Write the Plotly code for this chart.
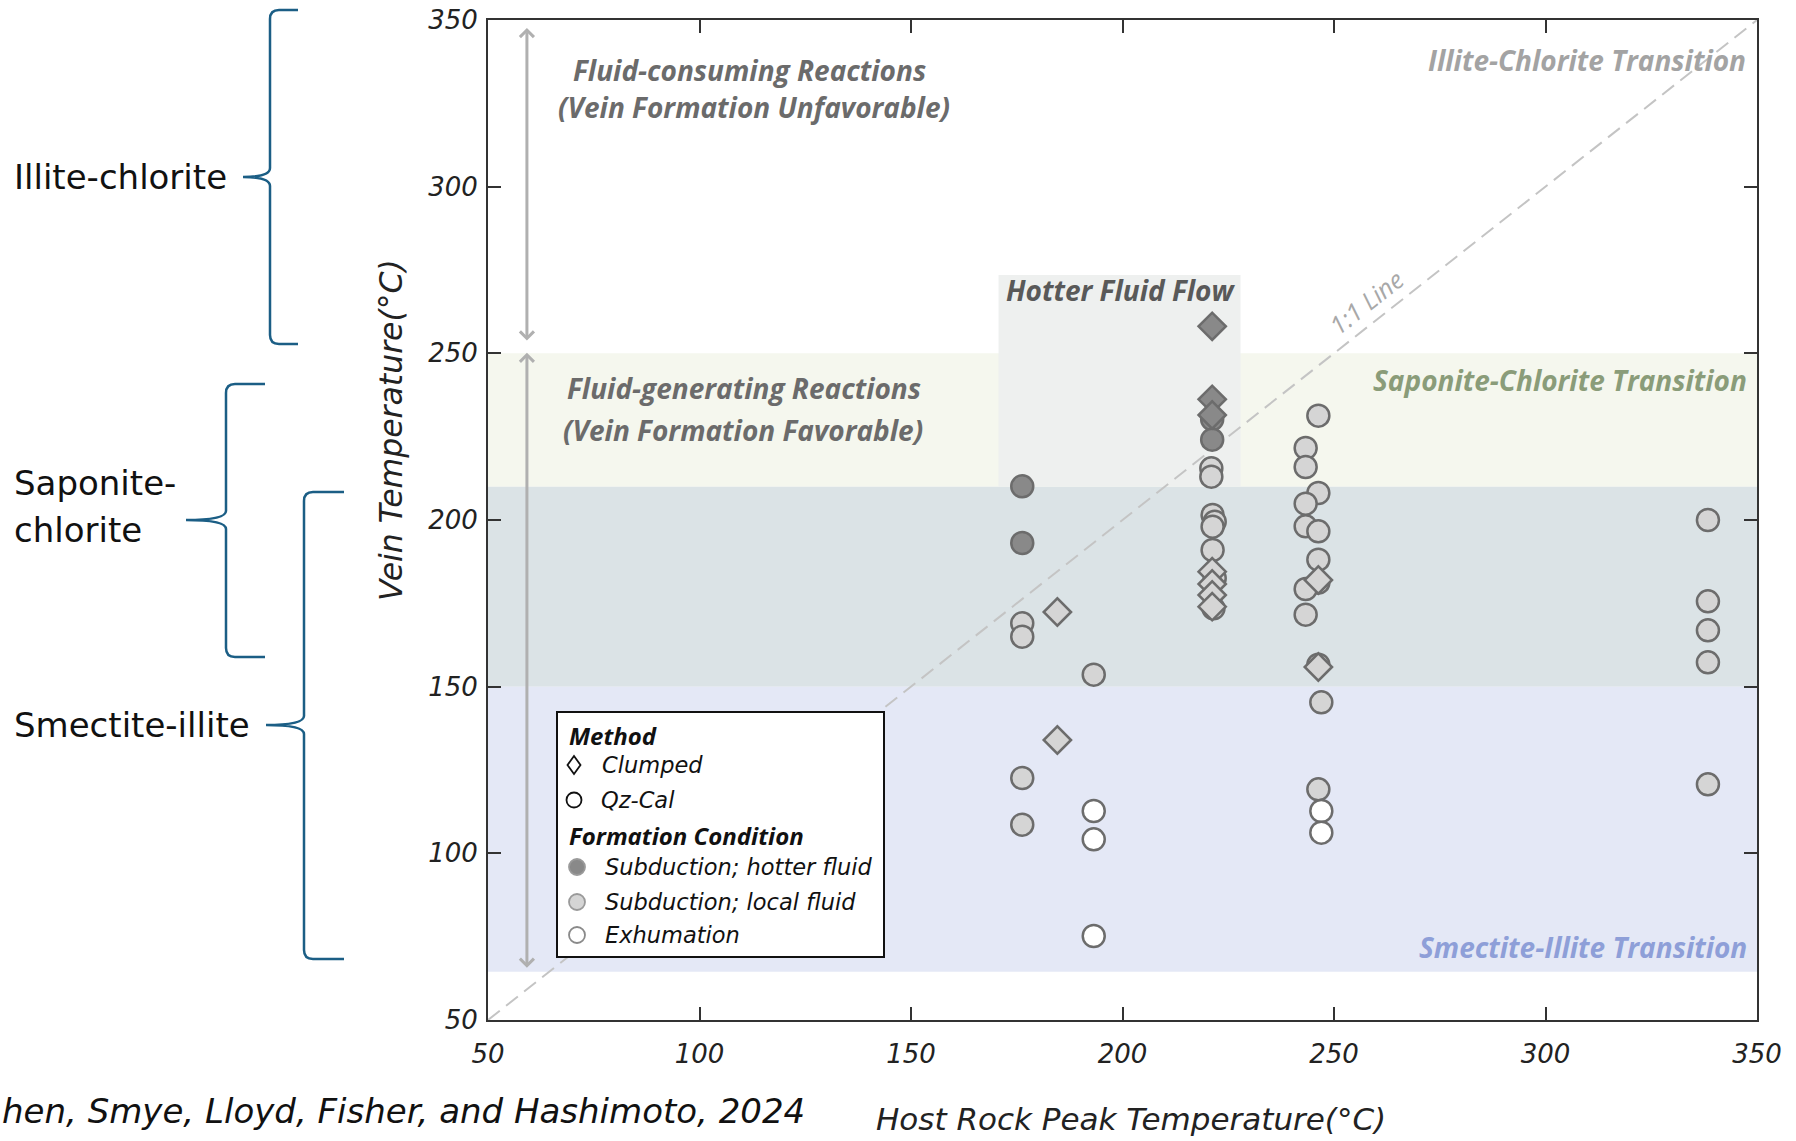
import plotly.graph_objects as go

# ---------------- data ----------------
# Subduction; hotter fluid
hot_qz_x = [176.3, 176.3, 221.2, 221.2]
hot_qz_y = [210.1, 193.1, 230.2, 224.1]
hot_cl_x = [221.2, 221.2, 221.2]
hot_cl_y = [258.1, 236.2, 231.5]

# Subduction; local fluid
local_qz_x = [176.3, 176.3, 176.3, 176.3,
              193.2,
              221.0, 221.0, 221.3, 221.8, 221.3, 221.3, 221.8, 221.5,
              246.3, 243.3, 243.3, 246.3, 243.3, 243.3, 246.3, 246.3, 246.3,
              243.3, 243.3, 246.3, 247.0, 246.3,
              338.4, 338.4, 338.4, 338.4, 338.4]
local_qz_y = [169.0, 165.0, 122.6, 108.6,
              153.6,
              215.5, 213.0, 201.5, 199.5, 198.0, 191.0, 182.5, 173.5,
              231.3, 221.6, 215.9, 208.1, 204.9, 198.1, 196.6, 188.1, 181.2,
              179.3, 171.6, 156.6, 145.3, 119.2,
              200.0, 175.6, 166.9, 157.3, 120.7]
local_cl_x = [184.6, 184.6, 221.2, 221.2, 221.2, 221.2, 246.3, 246.3]
local_cl_y = [172.4, 134.0, 184.5, 180.8, 177.5, 174.0, 182.0, 155.9]

# Exhumation
exh_qz_x = [193.2, 193.2, 193.2, 247.0, 247.0]
exh_qz_y = [112.7, 104.2, 75.2, 112.7, 106.2]

x_ticks = [50, 100, 150, 200, 250, 300, 350]
y_ticks = [50, 100, 150, 200, 250, 300, 350]

# ---------------- geometry helpers (pixels -> paper) ----------------
L, R, T, B = 488, 1757, 20, 1020


def px(fx):
    return (fx - L) / (R - L)


def py(fy):
    return (B - fy) / (B - T)


OUT = "#6c6c6c"
DARK = "#898989"
LIGHT = "#d5d5d5"
WHITE = "#ffffff"

fig = go.Figure()


def add(xs, ys, sym, fill, size):
    fig.add_trace(go.Scatter(
        x=xs, y=ys, mode="markers", showlegend=False, hoverinfo="skip",
        marker=dict(symbol=sym, size=size, color=fill,
                    line=dict(color=OUT, width=2.5))))


add(local_qz_x, local_qz_y, "circle", LIGHT, 22)
add(exh_qz_x, exh_qz_y, "circle", WHITE, 22)
add(hot_qz_x, hot_qz_y, "circle", DARK, 22)
add(local_cl_x, local_cl_y, "diamond", LIGHT, 21)
add(hot_cl_x, hot_cl_y, "diamond", DARK, 21)

shapes = []
# background bands
shapes.append(dict(type="rect", xref="x", yref="y", x0=50, x1=350, y0=210, y1=250,
                   fillcolor="#f5f7ee", line=dict(width=0), layer="below"))
shapes.append(dict(type="rect", xref="x", yref="y", x0=50, x1=350, y0=150, y1=210,
                   fillcolor="#dbe3e6", line=dict(width=0), layer="below"))
shapes.append(dict(type="rect", xref="x", yref="y", x0=50, x1=350, y0=64.5, y1=150,
                   fillcolor="#e4e8f6", line=dict(width=0), layer="below"))
# hotter fluid flow box
shapes.append(dict(type="rect", xref="x", yref="y", x0=170.7, x1=227.9, y0=210, y1=273.5,
                   fillcolor="#eef0ef", line=dict(width=0), layer="below"))
# 1:1 line
shapes.append(dict(type="line", xref="x", yref="y", x0=50, y0=50, x1=350, y1=350,
                   line=dict(color="#c4c4c4", width=2, dash="15px,8px"), layer="below"))

# braces on the left
BRACE = "#1b5e85"


def brace(xv, yt, yb, ytip, xtip, xs, r=9):
    pts = (f"M{px(xs)},{py(yt)} L{px(xv + r)},{py(yt)} Q{px(xv)},{py(yt)} {px(xv)},{py(yt + r)} "
           f"L{px(xv)},{py(ytip - r)} Q{px(xv)},{py(ytip)} {px(xtip)},{py(ytip)} "
           f"Q{px(xv)},{py(ytip)} {px(xv)},{py(ytip + r)} "
           f"L{px(xv)},{py(yb - r)} Q{px(xv)},{py(yb)} {px(xv + r)},{py(yb)} L{px(xs)},{py(yb)}")
    return dict(type="path", xref="paper", yref="paper", path=pts,
                line=dict(color=BRACE, width=2.5))


shapes.append(brace(270, 10, 344, 177, 243, 298))
shapes.append(brace(226, 384, 657, 520, 186, 265))
shapes.append(brace(304, 492, 959, 725, 266, 344))

# custom legend box
shapes.append(dict(type="rect", xref="paper", yref="paper", x0=px(557), x1=px(884),
                   y0=py(957), y1=py(712), line=dict(color="#111111", width=2),
                   fillcolor="white", layer="above"))


def legend_circle(fx, fy, fill, line_c, r=8):
    return dict(type="circle", xref="paper", yref="paper", xsizemode="pixel",
                ysizemode="pixel", xanchor=px(fx), yanchor=py(fy),
                x0=-r, x1=r, y0=-r, y1=r, fillcolor=fill,
                line=dict(color=line_c, width=1.8), layer="above")


shapes.append(dict(type="path", xref="paper", yref="paper", xsizemode="pixel",
                   ysizemode="pixel", xanchor=px(574), yanchor=py(765),
                   path="M0,9 L6.5,0 L0,-9 L-6.5,0 Z", fillcolor="white",
                   line=dict(color="#111111", width=1.8), layer="above"))
shapes.append(legend_circle(574, 800, "white", "#111111", 7.5))
shapes.append(legend_circle(577, 867, DARK, "#9a9a9a"))
shapes.append(legend_circle(577, 902, LIGHT, "#9a9a9a"))
shapes.append(legend_circle(577, 935, WHITE, "#8a8a8a"))

ann = []
TXT = "#6b6b6b"


def dtext(x, y, s, color, size=28, xanchor="center", bold=True, angle=0, italic=True):
    ann.append(dict(x=x, y=y, xref="x", yref="y", text=s, showarrow=False,
                    xanchor=xanchor, yanchor="middle", textangle=angle,
                    font=dict(family="Open Sans", size=size, color=color,
                              weight="bold" if bold else "normal",
                              style="italic" if italic else "normal")))


dtext(111.9, 335.0, "Fluid-consuming Reactions", TXT)
dtext(112.8, 324.0, "(Vein Formation Unfavorable)", TXT)
dtext(110.5, 239.7, "Fluid-generating Reactions", TXT)
dtext(110.3, 227.1, "(Vein Formation Favorable)", TXT)
dtext(199.6, 269.1, "Hotter Fluid Flow", "#595959")
dtext(347.9, 338.0, "Illite-Chlorite Transition", "#a3a3a3", xanchor="right")
dtext(348.0, 242.1, "Saponite-Chlorite Transition", "#8a9c79", xanchor="right")
dtext(348.0, 72.0, "Smectite-Illite Transition", "#8e9fd8", xanchor="right")
dtext(257.5, 265.5, "1:1 Line", "#a8a8a8", size=25, bold=False, angle=-38.3)

# double-headed arrows
for (y_a, y_b) in [(347.6, 253.4), (250.2, 65.2)]:
    ann.append(dict(x=59.2, y=y_a, ax=59.2, ay=y_b, xref="x", yref="y", axref="x", ayref="y",
                    text="", showarrow=True, arrowhead=4, startarrowhead=4,
                    arrowside="end+start", arrowsize=0.9, startarrowsize=0.9,
                    arrowwidth=3, arrowcolor="#b0b0b0", standoff=0, startstandoff=0))


def ptext(fx, fy, s, size, color="#111111", family="DejaVu Sans", xanchor="left",
          italic=False, bold=False, angle=0):
    ann.append(dict(x=px(fx), y=py(fy), xref="paper", yref="paper", text=s,
                    showarrow=False, xanchor=xanchor, yanchor="middle", textangle=angle,
                    font=dict(family=family, size=size, color=color,
                              style="italic" if italic else "normal",
                              weight="bold" if bold else "normal")))


# left labels
ptext(12, 177, "Illite-chlorite", 34)
ptext(12, 483, "Saponite-", 34)
ptext(12, 530, "chlorite", 34)
ptext(12, 725, "Smectite-illite", 34)
ptext(0, 1111, "hen, Smye, Lloyd, Fisher, and Hashimoto, 2024", 34, italic=True)

# axis titles
ptext(1131, 1119, "Host Rock Peak Temperature(°C)", 31, color="#222222", xanchor="center", italic=True)
ptext(391, 430, "Vein Temperature(°C)", 31.5, color="#222222", xanchor="center", italic=True, angle=-90)

# legend texts
ptext(567, 735, "Method", 24, family="Open Sans", italic=True, bold=True)
ptext(600, 765, "Clumped", 22.5, italic=True)
ptext(599, 800, "Qz-Cal", 22.5, italic=True)
ptext(567, 835, "Formation Condition", 24, family="Open Sans", italic=True, bold=True)
ptext(603, 867, "Subduction; hotter fluid", 22.5, italic=True)
ptext(603, 902, "Subduction; local fluid", 22.5, italic=True)
ptext(603, 935, "Exhumation", 22.5, italic=True)

axis_common = dict(showgrid=False, zeroline=False, showline=True, linewidth=2,
                   linecolor="#333333", mirror="ticks", ticks="inside", ticklen=13,
                   tickwidth=2, tickcolor="#333333", automargin=False,
                   tickfont=dict(family="DejaVu Sans", size=26, color="#222222", style="italic"))

fig.update_xaxes(range=[50, 350], tickvals=x_ticks, ticktext=[str(v) for v in x_ticks],
                 ticklabelstandoff=10, **axis_common)
fig.update_yaxes(range=[50, 350], tickvals=y_ticks, ticktext=[str(v) for v in y_ticks],
                 ticklabelstandoff=3, **axis_common)

fig.update_layout(width=1796, height=1141, margin=dict(l=L, r=1796 - R, t=T, b=1141 - B),
                  plot_bgcolor="white", paper_bgcolor="white", showlegend=False,
                  shapes=shapes, annotations=ann)

fig.write_html("out.html", config={"displayModeBar": False},
               post_script="document.body.style.margin='0';document.body.style.overflow='hidden';")
